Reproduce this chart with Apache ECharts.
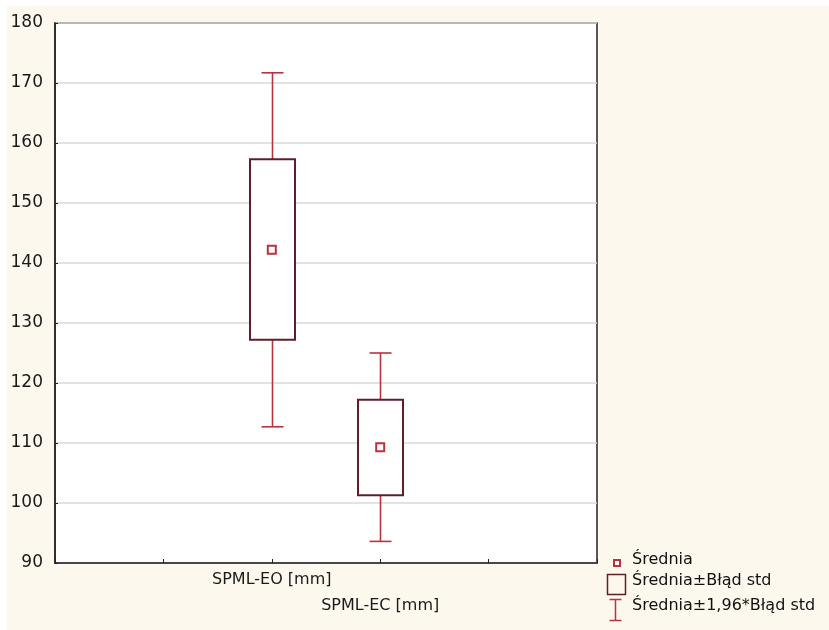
<!DOCTYPE html>
<html>
<head>
<meta charset="utf-8">
<script src="https://cdn.jsdelivr.net/npm/echarts@6/dist/echarts.min.js"></script>
<style>
  html, body { margin: 0; padding: 0; background: #ffffff; }
  #main { position: absolute; left: 7px; top: 6px; width: 822px; height: 624px; background: #fcf8ee; }
</style>
</head>
<body>
<div id="main"></div>
<script>
// x slots (ticks) on the category axis, only two carry a group
const categories = ['', '', 'SPML-EO [mm]', 'SPML-EC [mm]', '', ''];
const groups = ['SPML-EO [mm]', 'SPML-EC [mm]'];
// mean, mean ± std error, mean ± 1.96 * std error
const meanValues = [142.2, 109.3];
const seLow = [127.2, 101.3];
const seHigh = [157.3, 117.2];
const ciLow = [112.7, 93.6];
const ciHigh = [171.7, 125.0];
const yTicks = { min: 90, max: 180, step: 10 };

const RED = '#b8323f';
const MAROON = '#5e1f2c';
const FONT = 'DejaVu Sans';

const chart = echarts.init(document.getElementById('main'));

const boxData = groups.map((g, i) => [g, ciLow[i], seLow[i], meanValues[i], seHigh[i], ciHigh[i]]);
const meanData = groups.map((g, i) => [g, meanValues[i]]);

function renderBox(params, api) {
  const x = api.value(0);
  const pLo = api.coord([x, api.value(1)]);
  const pSeLo = api.coord([x, api.value(2)]);
  const pSeHi = api.coord([x, api.value(4)]);
  const pHi = api.coord([x, api.value(5)]);
  const cx = Math.round(pHi[0]) + 0.5;
  const capW = 22, boxW = 45;
  const ls = { stroke: RED, lineWidth: 1.6 };
  return {
    type: 'group',
    children: [
      { type: 'line', shape: { x1: cx, y1: pHi[1], x2: cx, y2: pLo[1] }, style: ls },
      { type: 'line', shape: { x1: cx - capW / 2, y1: pHi[1], x2: cx + capW / 2, y2: pHi[1] }, style: ls },
      { type: 'line', shape: { x1: cx - capW / 2, y1: pLo[1], x2: cx + capW / 2, y2: pLo[1] }, style: ls },
      {
        type: 'rect',
        shape: { x: cx - boxW / 2, y: pSeHi[1], width: boxW, height: pSeLo[1] - pSeHi[1] },
        style: { fill: '#ffffff', stroke: MAROON, lineWidth: 2 }
      }
    ]
  };
}

const option = {
  animation: false,
  backgroundColor: '#fcf8ee',
  grid: {
    left: 48, right: 232, top: 17, bottom: 67,
    show: true, backgroundColor: '#ffffff', borderColor: '#222', borderWidth: 1.5
  },
  xAxis: {
    type: 'category',
    data: categories,
    boundaryGap: false,
    axisLine: { lineStyle: { color: '#222', width: 1.5 } },
    axisTick: { inside: true, length: 4, lineStyle: { color: '#222' } },
    splitLine: { show: false },
    axisLabel: {
      interval: 0,
      margin: 4,
      fontFamily: FONT,
      fontSize: 16,
      color: '#1a1a1a',
      lineHeight: 26,
      formatter: (v, idx) => (idx === 3 ? '\n' + v : v)
    }
  },
  yAxis: {
    type: 'value',
    min: yTicks.min,
    max: yTicks.max,
    interval: yTicks.step,
    axisLine: { show: true, lineStyle: { color: '#222', width: 1.5 } },
    axisTick: { show: true, inside: true, length: 3, lineStyle: { color: '#222' } },
    splitLine: { lineStyle: { color: '#d9d9d9', width: 1.5 } },
    axisLabel: { margin: 12, fontFamily: FONT, fontSize: 17, color: '#1a1a1a' }
  },
  series: [
    {
      name: 'Średnia±Błąd std',
      type: 'custom',
      renderItem: renderBox,
      encode: { x: 0, y: [1, 2, 3, 4, 5] },
      data: boxData,
      z: 2
    },
    {
      name: 'Średnia',
      type: 'scatter',
      symbol: 'rect',
      symbolSize: 8,
      itemStyle: { color: '#ffffff', borderColor: RED, borderWidth: 2, opacity: 1 },
      data: meanData,
      z: 3
    }
  ],
  graphic: [
    // legend, bottom right
    { type: 'rect', left: 606, top: 553, shape: { width: 6, height: 6 }, style: { fill: '#fff', stroke: RED, lineWidth: 2 } },
    { type: 'text', left: 625, top: 546, style: { text: 'Średnia', font: '16px "DejaVu Sans"', fill: '#111' } },
    { type: 'rect', left: 598, top: 566, shape: { width: 18, height: 20 }, style: { fill: 'none', stroke: MAROON, lineWidth: 1.5 } },
    { type: 'text', left: 625, top: 567, style: { text: 'Średnia±Błąd std', font: '16px "DejaVu Sans"', fill: '#111' } },
    {
      type: 'group', left: 600, top: 591,
      children: [
        { type: 'line', shape: { x1: 0, y1: 0, x2: 12, y2: 0 }, style: { stroke: RED, lineWidth: 1.5 } },
        { type: 'line', shape: { x1: 6, y1: 0, x2: 6, y2: 21 }, style: { stroke: RED, lineWidth: 1.5 } },
        { type: 'line', shape: { x1: 0, y1: 21, x2: 12, y2: 21 }, style: { stroke: RED, lineWidth: 1.5 } }
      ]
    },
    { type: 'text', left: 625, top: 592, style: { text: 'Średnia±1,96*Błąd std', font: '16px "DejaVu Sans"', fill: '#111' } }
  ]
};

chart.setOption(option);
</script>
</body>
</html>
